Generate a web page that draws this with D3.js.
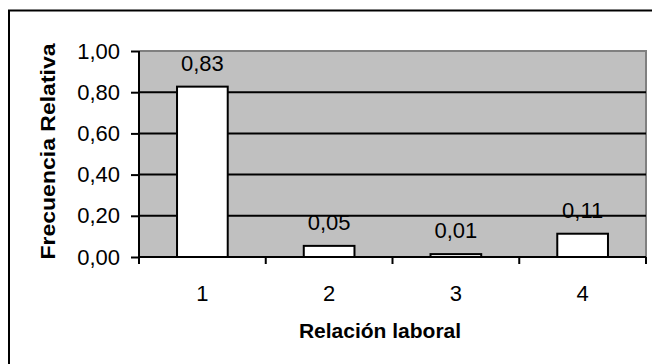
<!DOCTYPE html>
<html>
<head>
<meta charset="utf-8">
<script src="https://cdn.jsdelivr.net/npm/d3@7"></script>
<style>
  html, body { margin: 0; padding: 0; background: #fff; }
  svg { display: block; }
  text { font-family: "Liberation Sans", Arial, sans-serif; fill: #000; }
</style>
</head>
<body>
<svg id="chart" width="652" height="364"></svg>
<script>
const categories = ["1", "2", "3", "4"];
const values = [0.827, 0.054, 0.014, 0.113];
const yTicks = [0, 0.2, 0.4, 0.6, 0.8, 1.0];
const xTitle = "Relación laboral";
const yTitle = "Frecuencia Relativa";

const svg = d3.select("#chart");
const pLeft = 139, pRight = 646, pTop = 51, pBottom = 257;
const fmt = v => d3.format(".2f")(v).replace(".", ",");

// outer frame (extends beyond canvas on right/bottom)
svg.append("rect").attr("x", 9).attr("y", 10.5).attr("width", 720).attr("height", 420)
  .attr("fill", "#fff").attr("stroke", "#000").attr("stroke-width", 2);

const x = d3.scaleBand().domain(categories).range([pLeft, pRight]).padding(0);
const y = d3.scaleLinear().domain([0, 1]).range([pBottom, pTop]);

// plot area
svg.append("rect").attr("x", pLeft).attr("y", pTop).attr("width", pRight - pLeft).attr("height", pBottom - pTop)
  .attr("fill", "#C0C0C0");
// grey top and right border
svg.append("path").attr("d", `M${pLeft},${pTop} H${pRight} V${pBottom}`)
  .attr("fill", "none").attr("stroke", "#808080").attr("stroke-width", 2);

// gridlines
svg.append("g").selectAll("line").data(yTicks.filter(t => t > 0 && t < 1)).join("line")
  .attr("x1", pLeft).attr("x2", pRight)
  .attr("y1", d => y(d)).attr("y2", d => y(d))
  .attr("stroke", "#000").attr("stroke-width", 2);

// bars
const bw = x.bandwidth() * 0.4;
svg.append("g").selectAll("rect").data(values).join("rect")
  .attr("x", (d, i) => x(categories[i]) + x.bandwidth() / 2 - bw / 2)
  .attr("y", d => y(d))
  .attr("width", bw)
  .attr("height", d => y(0) - y(d))
  .attr("fill", "#fff").attr("stroke", "#000").attr("stroke-width", 2);

// data labels
svg.append("g").selectAll("text").data(values).join("text")
  .attr("x", (d, i) => x(categories[i]) + x.bandwidth() / 2)
  .attr("y", d => y(d) - 16)
  .attr("text-anchor", "middle")
  .style("font-size", "22px")
  .text(d => fmt(d));

// y axis
const yAxis = d3.axisLeft(y).tickValues(yTicks).tickSize(8).tickPadding(11).tickFormat(fmt);
const gy = svg.append("g").attr("transform", `translate(${pLeft},0)`).call(yAxis);
gy.select(".domain").attr("stroke", "#000").attr("stroke-width", 2).attr("d", `M0,${pTop}V${pBottom + 7}`);
gy.selectAll(".tick line").attr("stroke", "#000").attr("stroke-width", 2);
gy.selectAll(".tick text").style("font-size", "22px").style("font-family", "'Liberation Sans', Arial, sans-serif")
  .attr("dy", "0.32em").attr("fill", "#000");

// x axis
const xAxis = d3.axisBottom(x).tickSize(0).tickPadding(30);
const gx = svg.append("g").attr("transform", `translate(0,${pBottom})`).call(xAxis);
gx.select(".domain").remove();
gx.append("line").attr("x1", pLeft).attr("x2", pRight).attr("y1", 0).attr("y2", 0)
  .attr("stroke", "#000").attr("stroke-width", 2);
gx.selectAll(".boundary").data(categories).join("line").attr("class", "boundary")
  .attr("x1", d => x(d) + x.step()).attr("x2", d => x(d) + x.step())
  .attr("y1", 0).attr("y2", 7).attr("stroke", "#000").attr("stroke-width", 2);
gx.selectAll(".tick text").style("font-size", "22px").style("font-family", "'Liberation Sans', Arial, sans-serif")
  .attr("fill", "#000").attr("dy", "0").attr("y", 44);

// axis titles
svg.append("text").attr("x", 380).attr("y", 338).attr("text-anchor", "middle")
  .style("font-size", "21px").style("font-weight", "bold").text(xTitle);
svg.append("text").attr("transform", "translate(55,151.5) rotate(-90)").attr("text-anchor", "middle")
  .style("font-size", "21px").style("font-weight", "bold")
  .attr("textLength", 216).attr("lengthAdjust", "spacingAndGlyphs").text(yTitle);
</script>
</body>
</html>
